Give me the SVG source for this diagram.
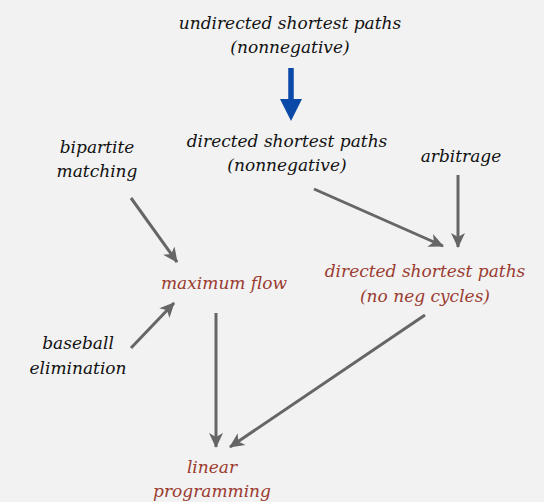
<svg xmlns="http://www.w3.org/2000/svg" width="544" height="502" viewBox="0 0 544 502">
<style>
text{font-family:'DejaVu Serif',serif;font-style:italic;font-size:17px;text-anchor:middle}
.k{fill:#111}
.r{fill:#9b3b30}
.c{stroke:#666;stroke-width:3;fill:none;marker-end:url(#ah)}
</style>
<defs>
<marker id="ah" markerUnits="userSpaceOnUse" markerWidth="16" markerHeight="16" refX="14" refY="8" orient="auto">
<path d="M0,1 L15,8 L0,15 L4,8 Z" fill="#666"/>
</marker>
</defs>
<rect width="544" height="502" fill="#f2f2f2"/>
<g id="undirected"><text class="k" x="290" y="29">undirected shortest paths</text><text class="k" x="290" y="53">(nonnegative)</text></g>
<g id="directed-nonneg"><text class="k" x="287" y="147">directed shortest paths</text><text class="k" x="287" y="171">(nonnegative)</text></g>
<g id="arbitrage"><text class="k" x="461" y="162">arbitrage</text></g>
<g id="bipartite"><text class="k" x="97" y="153">bipartite</text><text class="k" x="97" y="177">matching</text></g>
<g id="maxflow"><text class="r" x="224" y="289">maximum flow</text></g>
<g id="directed-noneg"><text class="r" x="425" y="277">directed shortest paths</text><text class="r" x="425" y="302">(no neg cycles)</text></g>
<g id="baseball"><text class="k" x="78" y="349">baseball</text><text class="k" x="78" y="374">elimination</text></g>
<g id="lp"><text class="r" x="212" y="473">linear</text><text class="r" x="212" y="497">programming</text></g>
<g id="connectors">
<path d="M291,68 V104" stroke="#0b49a8" stroke-width="5.5" fill="none"/>
<path d="M280,99 L302,99 L291,121 Z" fill="#0b49a8"/>
<path class="c" d="M131,198 L177,262"/>
<path class="c" d="M131,348 L174,303"/>
<path class="c" d="M216,313 L216,447"/>
<path class="c" d="M314,189 L443,246"/>
<path class="c" d="M458,175 L458,247"/>
<path class="c" d="M425,315 L230,447"/>
</g>
</svg>
